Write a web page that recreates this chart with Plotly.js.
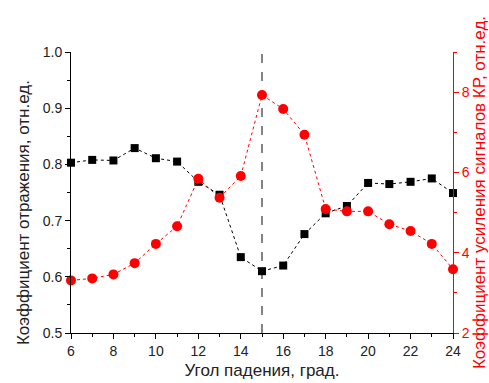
<!DOCTYPE html>
<html><head><meta charset="utf-8">
<script src="https://cdn.plot.ly/plotly-3.0.1.min.js"></script>
<style>html,body{margin:0;padding:0;background:#fff}#chart{width:489px;height:383px}</style>
</head><body><div id="chart"></div>
<script>
const angles = [6,7,8,9,10,11,12,13,14,15,16,17,18,19,20,21,22,23,24];
const reflection = [0.803,0.808,0.807,0.829,0.811,0.805,0.769,0.746,0.635,0.610,0.620,0.676,0.713,0.726,0.767,0.765,0.769,0.775,0.749];
const gain = [3.31,3.36,3.46,3.74,4.22,4.66,5.84,5.37,5.91,7.93,7.58,6.94,5.09,5.03,5.03,4.71,4.54,4.22,3.59];
const xTitle = "Угол падения, град.";
const yTitle = "Коэффициент отражения, отн.ед.";
const y2Title = "Коэффициент усиления сигналов КР, отн.ед.";
const markerAngle = 15;

const fontFam = "Liberation Sans, Arial, sans-serif";
const data = [
  {x: angles, y: reflection, type: 'scatter', mode: 'lines+markers',
   line: {color: 'black', width: 1, dash: 'dot'},
   marker: {symbol: 'square', size: 8, color: 'black'}, yaxis: 'y', cliponaxis: false},
  {x: angles, y: gain, type: 'scatter', mode: 'lines+markers',
   line: {color: 'red', width: 1, dash: 'dot'},
   marker: {symbol: 'circle', size: 10, color: 'red'}, yaxis: 'y2', cliponaxis: false}
];
const layout = {
  width: 489, height: 383,
  margin: {l: 71, r: 36, t: 52, b: 50},
  paper_bgcolor: 'white', plot_bgcolor: 'white',
  showlegend: false,
  font: {family: fontFam, size: 14, color: '#222'},
  xaxis: {range: [6, 24], dtick: 2, tick0: 6, showgrid: false, zeroline: false,
    showline: true, linecolor: 'black', linewidth: 1, ticks: 'outside', ticklen: 5, tickcolor: 'black',
    minor: {dtick: 1, ticks: 'outside', ticklen: 3, tickcolor: 'black'},
    title: {text: xTitle, font: {size: 17, color: '#222'}, standoff: 6}},
  yaxis: {range: [0.5, 1.0], dtick: 0.1, tickformat: '.1f', showgrid: false, zeroline: false,
    showline: true, linecolor: 'black', linewidth: 1, ticks: 'outside', ticklen: 5, tickcolor: 'black',
    minor: {dtick: 0.05, ticks: 'outside', ticklen: 3, tickcolor: 'black'}},
  yaxis2: {range: [2, 9], dtick: 2, tick0: 2, overlaying: 'y', side: 'right', showgrid: false, zeroline: false,
    showline: true, linecolor: 'red', linewidth: 1, ticks: 'outside', ticklen: 5, tickcolor: 'red',
    tickfont: {color: 'red', size: 14},
    minor: {dtick: 1, ticks: 'outside', ticklen: 3, tickcolor: 'red'},
    title: {text: y2Title, font: {size: 17, color: 'red'}, standoff: 4}},
  annotations: [{text: yTitle, xref: 'paper', yref: 'paper', x: -0.126, y: 0.43,
    xanchor: 'center', yanchor: 'middle', textangle: -90, showarrow: false,
    font: {size: 17, color: '#222', family: fontFam}}],
  shapes: [{type: 'line', xref: 'x', yref: 'paper', x0: markerAngle, x1: markerAngle, y0: 0, y1: 1,
    line: {color: '#333', width: 1.2, dash: 'dash'}, layer: 'below'}]
};
Plotly.newPlot('chart', data, layout, {displayModeBar: false, staticPlot: true});
</script></body></html>
